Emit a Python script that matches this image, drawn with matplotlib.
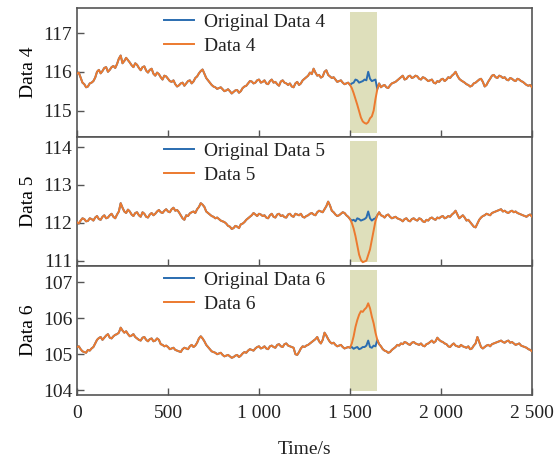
import numpy as np
import matplotlib
matplotlib.use("Agg")
import matplotlib.pyplot as plt

plt.rcParams['font.family'] = ['Liberation Serif', 'DejaVu Serif']

# samples every 20 s (t = 0, 20, ..., 2500) and in-between samples (t = 10, 30, ..., 2490)
time_even = np.arange(0, 2501, 20)
time_odd = np.arange(10, 2500, 20)

data4_even = [115.95, 115.85, 115.68, 115.62, 115.72, 115.85, 116.05, 116.02, 116.12, 116.05,
              116.15, 116.20, 116.42, 116.28, 116.30, 116.17, 116.22, 116.10, 116.12, 116.03,
              116.05, 115.95, 115.98, 115.86, 115.90, 115.82, 115.74, 115.68, 115.65, 115.72,
              115.70, 115.78, 115.75, 115.88, 116.02, 115.95, 115.78, 115.66, 115.60, 115.58,
              115.55, 115.52, 115.50, 115.48, 115.53, 115.50, 115.62, 115.70, 115.75, 115.72,
              115.80, 115.74, 115.70, 115.76, 115.72, 115.68, 115.75, 115.72, 115.66, 115.62,
              115.70, 115.66, 115.78, 115.86, 115.98, 116.08, 115.90, 115.85, 116.00, 115.92,
              115.84, 115.80, 115.76, 115.72, 115.70, 115.66, 115.45, 115.15, 114.82, 114.68,
              114.70, 114.85, 115.30, 115.70, 115.64, 115.60, 115.65, 115.72, 115.78, 115.86,
              115.80, 115.88, 115.84, 115.90, 115.82, 115.86, 115.80, 115.78, 115.72, 115.76,
              115.80, 115.76, 115.86, 115.90, 116.00, 115.82, 115.75, 115.68, 115.62, 115.70,
              115.76, 115.82, 115.62, 115.75, 115.90, 115.86, 115.90, 115.84, 115.80, 115.84,
              115.78, 115.82, 115.76, 115.70, 115.64, 115.60]
data4_odd = [115.98, 115.72, 115.60, 115.70, 115.76, 116.00, 115.96, 116.10, 116.00, 116.12,
             116.10, 116.34, 116.22, 116.36, 116.24, 116.12, 116.18, 116.04, 116.14, 115.98,
             116.08, 115.90, 115.94, 115.80, 115.88, 115.76, 115.78, 115.62, 115.70, 115.64,
             115.76, 115.70, 115.84, 115.96, 116.06, 115.84, 115.72, 115.62, 115.56, 115.60,
             115.50, 115.55, 115.44, 115.52, 115.46, 115.58, 115.64, 115.76, 115.70, 115.78,
             115.72, 115.78, 115.68, 115.80, 115.74, 115.64, 115.78, 115.70, 115.70, 115.60,
             115.74, 115.70, 115.82, 115.90, 115.94, 115.98, 115.92, 115.88, 116.04, 115.88,
             115.86, 115.74, 115.78, 115.68, 115.72, 115.58, 115.30, 114.98, 114.72, 114.66,
             114.80, 115.00, 115.55, 115.60, 115.66, 115.58, 115.70, 115.74, 115.82, 115.90,
             115.82, 115.90, 115.86, 115.88, 115.80, 115.84, 115.76, 115.80, 115.70, 115.74,
             115.82, 115.80, 115.84, 115.94, 115.90, 115.78, 115.72, 115.66, 115.64, 115.72,
             115.80, 115.74, 115.66, 115.82, 115.92, 115.84, 115.88, 115.86, 115.78, 115.82,
             115.76, 115.80, 115.74, 115.66, 115.66]
orig4_window = [115.70, 115.72, 115.80, 115.78, 115.72, 115.74, 115.76,
                115.80, 115.78, 116.00, 115.82, 115.76, 115.78, 115.80]

data5_even = [112.02, 112.06, 112.10, 112.05, 112.10, 112.14, 112.10, 112.16, 112.12, 112.20,
              112.16, 112.22, 112.52, 112.30, 112.35, 112.22, 112.26, 112.20, 112.28, 112.16,
              112.22, 112.20, 112.30, 112.28, 112.32, 112.30, 112.36, 112.32, 112.28, 112.12,
              112.20, 112.25, 112.30, 112.36, 112.52, 112.42, 112.26, 112.18, 112.12, 112.10,
              112.04, 111.98, 111.90, 111.86, 111.90, 111.96, 112.02, 112.12, 112.20, 112.22,
              112.24, 112.18, 112.14, 112.20, 112.16, 112.22, 112.18, 112.15, 112.22, 112.18,
              112.24, 112.20, 112.16, 112.18, 112.24, 112.22, 112.28, 112.30, 112.36, 112.56,
              112.32, 112.22, 112.20, 112.28, 112.20, 112.10, 111.85, 111.40, 111.02, 110.98,
              111.15, 111.55, 112.05, 112.28, 112.18, 112.20, 112.16, 112.14, 112.12, 112.08,
              112.10, 112.06, 112.10, 112.08, 112.12, 112.04, 112.08, 112.12, 112.10, 112.14,
              112.16, 112.12, 112.18, 112.22, 112.32, 112.12, 112.20, 112.06, 112.02, 111.90,
              111.98, 112.14, 112.20, 112.22, 112.26, 112.30, 112.34, 112.30, 112.28, 112.30,
              112.28, 112.26, 112.22, 112.18, 112.20, 112.16]
data5_odd = [111.98, 112.12, 112.04, 112.12, 112.06, 112.18, 112.08, 112.20, 112.14, 112.24,
             112.12, 112.30, 112.40, 112.26, 112.30, 112.18, 112.28, 112.16, 112.24, 112.14,
             112.26, 112.24, 112.34, 112.26, 112.36, 112.28, 112.40, 112.34, 112.20, 112.08,
             112.18, 112.28, 112.26, 112.42, 112.48, 112.30, 112.22, 112.16, 112.14, 112.06,
             112.02, 111.92, 111.84, 111.92, 111.86, 111.98, 112.08, 112.16, 112.26, 112.18,
             112.22, 112.20, 112.12, 112.24, 112.14, 112.24, 112.20, 112.14, 112.24, 112.16,
             112.22, 112.24, 112.14, 112.20, 112.26, 112.20, 112.32, 112.28, 112.44, 112.46,
             112.28, 112.18, 112.24, 112.26, 112.16, 112.00, 111.65, 111.16, 110.96, 111.00,
             111.30, 111.80, 112.20, 112.20, 112.14, 112.22, 112.12, 112.16, 112.10, 112.04,
             112.12, 112.04, 112.12, 112.06, 112.10, 112.02, 112.06, 112.14, 112.08, 112.12,
             112.18, 112.14, 112.16, 112.26, 112.22, 112.16, 112.14, 112.08, 111.96, 111.88,
             112.08, 112.18, 112.24, 112.20, 112.28, 112.32, 112.36, 112.32, 112.26, 112.32,
             112.30, 112.24, 112.20, 112.16, 112.22]
orig5_window = [112.06, 112.08, 112.04, 112.12, 112.10, 112.06, 112.08,
                112.10, 112.14, 112.30, 112.12, 112.06, 112.10, 112.12]

data6_even = [105.20, 105.14, 105.06, 105.12, 105.16, 105.30, 105.45, 105.40, 105.52, 105.46,
              105.50, 105.56, 105.74, 105.60, 105.56, 105.52, 105.48, 105.40, 105.46, 105.40,
              105.42, 105.36, 105.44, 105.28, 105.22, 105.20, 105.16, 105.12, 105.08, 105.14,
              105.16, 105.22, 105.20, 105.32, 105.50, 105.36, 105.20, 105.08, 105.04, 105.02,
              104.98, 104.96, 104.94, 104.92, 104.98, 104.96, 105.06, 105.10, 105.12, 105.16,
              105.22, 105.18, 105.16, 105.22, 105.20, 105.26, 105.22, 105.28, 105.24, 105.20,
              105.00, 105.06, 105.22, 105.24, 105.30, 105.38, 105.48, 105.30, 105.60, 105.42,
              105.30, 105.26, 105.24, 105.20, 105.18, 105.18, 105.50, 105.95, 106.20, 106.25,
              106.42, 106.05, 105.60, 105.28, 105.14, 105.08, 105.06, 105.16, 105.26, 105.30,
              105.34, 105.28, 105.32, 105.30, 105.26, 105.24, 105.28, 105.34, 105.32, 105.46,
              105.36, 105.30, 105.22, 105.26, 105.24, 105.20, 105.22, 105.18, 105.14, 105.24,
              105.48, 105.20, 105.20, 105.26, 105.28, 105.32, 105.36, 105.34, 105.36, 105.32,
              105.30, 105.28, 105.24, 105.20, 105.14, 105.08]
data6_odd = [105.22, 105.08, 105.04, 105.10, 105.20, 105.40, 105.48, 105.46, 105.56, 105.44,
             105.54, 105.60, 105.66, 105.64, 105.50, 105.56, 105.44, 105.38, 105.48, 105.36,
             105.44, 105.38, 105.40, 105.26, 105.24, 105.14, 105.18, 105.10, 105.06, 105.18,
             105.14, 105.26, 105.24, 105.44, 105.44, 105.26, 105.14, 105.06, 105.00, 105.04,
             104.94, 104.98, 104.90, 104.96, 104.92, 105.02, 105.04, 105.14, 105.10, 105.20,
             105.16, 105.22, 105.14, 105.24, 105.18, 105.28, 105.20, 105.30, 105.22, 105.18,
             104.98, 105.16, 105.20, 105.26, 105.34, 105.42, 105.36, 105.40, 105.52, 105.34,
             105.32, 105.22, 105.26, 105.16, 105.20, 105.30, 105.76, 106.10, 106.18, 106.30,
             106.28, 105.86, 105.40, 105.22, 105.10, 105.04, 105.12, 105.20, 105.24, 105.28,
             105.32, 105.26, 105.34, 105.28, 105.30, 105.22, 105.30, 105.38, 105.36, 105.40,
             105.34, 105.28, 105.20, 105.30, 105.22, 105.26, 105.20, 105.22, 105.16, 105.30,
             105.34, 105.16, 105.24, 105.22, 105.30, 105.34, 105.38, 105.32, 105.38, 105.34,
             105.26, 105.30, 105.22, 105.18, 105.12]
orig6_window = [105.20, 105.15, 105.18, 105.20, 105.14, 105.16, 105.20,
                105.20, 105.24, 105.38, 105.20, 105.18, 105.24, 105.22]

window_start = 1500
window_end = 1650
names = ['Data 4', 'Data 5', 'Data 6']
ylims = [(114.32, 117.65), (110.86, 114.27), (103.86, 107.46)]
yticks = [[115, 116, 117], [111, 112, 113, 114], [104, 105, 106, 107]]
xticks = [0, 500, 1000, 1500, 2000, 2500]
xtick_labels = ['0', '500', '1 000', '1 500', '2 000', '2 500']

series = [(data4_even, data4_odd), (data5_even, data5_odd), (data6_even, data6_odd)]
orig_windows = [orig4_window, orig5_window, orig6_window]

blue = '#2a6db0'
orange = '#ec7a2f'
span_color = '#dedfbb'
spine_color = '#555555'


def interleave(even, odd):
    out = np.empty(len(even) + len(odd))
    out[0::2] = even
    out[1::2] = odd
    return out


time_s = interleave(time_even, time_odd)

fig, axes = plt.subplots(3, 1, figsize=(5.6, 4.61), dpi=100, sharex=True)
fig.subplots_adjust(left=0.1375, right=0.95, top=0.983, bottom=0.143, hspace=0)

win_idx = np.where((time_s > window_start) & (time_s < window_end))[0]

for ax, name, (ev, od), ow, yl, yt in zip(axes, names, series, orig_windows, ylims, yticks):
    d = interleave(ev, od)
    orig = d.copy()
    orig[win_idx] = ow
    ax.axvspan(window_start, window_end, ymin=0.03, ymax=0.97, color=span_color, lw=0, zorder=0)
    ax.plot(time_s, orig, color=blue, lw=1.4, label='Original ' + name, zorder=2)
    ax.plot(time_s, d, color=orange, lw=1.4, label=name, zorder=3)
    ax.set_ylim(*yl)
    ax.set_yticks(yt)
    ax.set_ylabel(name, fontsize=14, labelpad=4)
    ax.set_xlim(0, 2500)
    ax.tick_params(direction='in', labelsize=14, length=5, width=1, colors=spine_color,
                   labelcolor='#222222', top=False, right=False)
    ax.tick_params(axis='x', pad=7)
    for sp in ax.spines.values():
        sp.set_color(spine_color)
        sp.set_linewidth(1.2)
    leg = ax.legend(loc='upper left', bbox_to_anchor=(0.165, 1.05), frameon=False,
                    fontsize=14, handlelength=1.55, handletextpad=0.5, labelspacing=0.35,
                    borderaxespad=0.2)
    for t in leg.get_texts():
        t.set_color('#222222')

axes[-1].set_xticks(xticks)
axes[-1].set_xticklabels(xtick_labels)
axes[-1].set_xlabel('Time/s', fontsize=14, labelpad=14, color='#222222')
fig.align_ylabels(axes)

fig.savefig('out.png', dpi=100)
